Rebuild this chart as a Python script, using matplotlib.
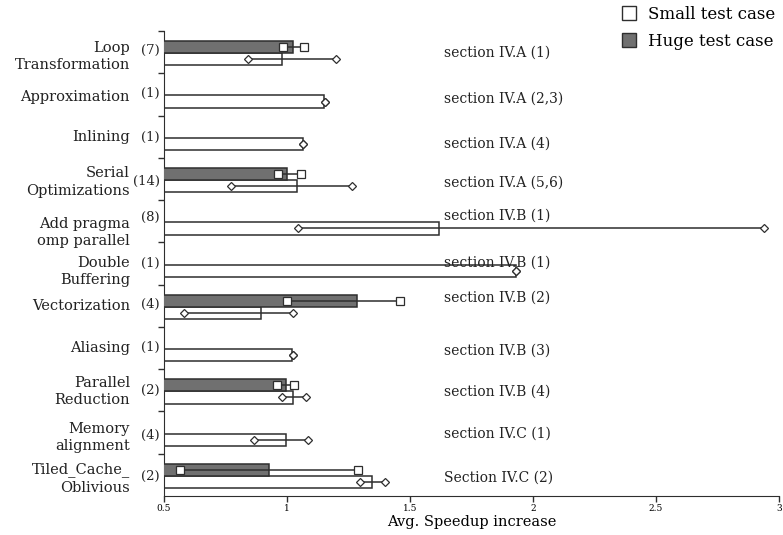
import numpy as np
import matplotlib.pyplot as plt
from matplotlib.lines import Line2D

# %% data
categories = ['Loop\nTransformation', 'Approximation', 'Inlining', 'Serial\nOptimizations',
              'Add pragma\nomp parallel', 'Double\nBuffering', 'Vectorization', 'Aliasing',
              'Parallel\nReduction', 'Memory\nalignment', 'Tiled_Cache_\nOblivious']
counts = ['(7)', '(1)', '(1)', '(14)', '(8)', '(1)', '(4)', '(1)', '(2)', '(4)', '(2)']
sections = ['section IV.A (1)', 'section IV.A (2,3)', 'section IV.A (4)', 'section IV.A (5,6)',
            'section IV.B (1)', 'section IV.B (1)', 'section IV.B (2)', 'section IV.B (3)',
            'section IV.B (4)', 'section IV.C (1)', 'Section IV.C (2)']

nan = np.nan
huge_mean = [1.023, nan, nan, 1.001, nan, nan, 1.283, nan, 0.995, nan, 0.928]
huge_min = [0.983, nan, nan, 0.962, nan, nan, 0.999, nan, 0.958, nan, 0.565]
huge_max = [1.069, nan, nan, 1.056, nan, nan, 1.46, nan, 1.03, nan, 1.29]

small_mean = [0.978, 1.152, 1.066, 1.042, 1.618, 1.931, 0.893, 1.02, 1.026, 0.995, 1.344]
small_min = [0.843, 1.156, 1.066, 0.771, 1.046, 1.931, 0.583, 1.023, 0.978, 0.866, 1.297]
small_max = [1.199, 1.156, 1.066, 1.264, 2.94, 1.931, 1.023, 1.023, 1.076, 1.084, 1.398]

xticks = [0.5, 1, 1.5, 2, 2.5, 3]
xtick_labels = ['0.5', '1', '1.5', '2', '2.5', '3']

# %% layout (vertical offsets inside each group)
label_off = [0.61, 0.55, 0.51, 0.57, 0.77, 0.69, 0.50, 0.51, 0.53, 0.61, 0.59]
count_off = [0.47, 0.48, 0.51, 0.57, 0.40, 0.51, 0.46, 0.48, 0.51, 0.57, 0.55]
section_off = [0.52, 0.59, 0.66, 0.58, 0.36, 0.47, 0.30, 0.57, 0.54, 0.53, 0.57]

plt.rcParams['font.family'] = 'DejaVu Serif'
dark = '#2e2e2e'
gray = '#707070'

fig = plt.figure(figsize=(7.83, 5.35), dpi=100)
ax = fig.add_axes([0.2095, 0.073, 0.785, 0.869])

idx = np.arange(len(categories))
y_huge = idx + 0.38
y_small = idx + 0.67
h = 0.29

ax.barh(y_small, small_mean, height=h, color='white', edgecolor=dark, linewidth=1.1, zorder=2)
ax.barh(y_huge, huge_mean, height=h, color=gray, edgecolor=dark, linewidth=1.1, zorder=3)

# range lines + markers
ax.hlines(y_small, small_min, small_max, color=dark, linewidth=1.1, zorder=4)
ax.plot(small_min, y_small, 'D', ms=3.6, mfc='white', mec=dark, mew=0.9, zorder=5, ls='none')
ax.plot(small_max, y_small, 'D', ms=3.6, mfc='white', mec=dark, mew=0.9, zorder=5, ls='none')
ax.hlines(y_huge, huge_min, huge_max, color=dark, linewidth=1.1, zorder=4)
ax.plot(huge_min, y_huge, 's', ms=6, mfc='white', mec=dark, mew=0.9, zorder=5, ls='none')
ax.plot(huge_max, y_huge, 's', ms=6, mfc='white', mec=dark, mew=0.9, zorder=5, ls='none')

for i in idx:
    ax.annotate(categories[i], xy=(0, i + label_off[i]), xycoords=('axes fraction', 'data'),
                xytext=(-34, 0), textcoords='offset pixels', ha='right', va='center',
                multialignment='right', fontsize=10.5, color='#222222', linespacing=1.3)
    ax.annotate(counts[i], xy=(0, i + count_off[i]), xycoords=('axes fraction', 'data'),
                xytext=(-4, 0), textcoords='offset pixels', ha='right', va='center',
                fontsize=9.5, color='#222222')
    ax.text(1.638, i + section_off[i], sections[i], ha='left', va='center',
            fontsize=10, color='#222222', zorder=6)

ax.set_xlim(0.5, 3)
ax.set_ylim(11, 0)
ax.set_xticks(xticks)
ax.set_xticklabels(xtick_labels, fontsize=6.5)
ax.set_yticks(np.arange(0, 11))
ax.set_yticklabels([])
ax.tick_params(axis='y', length=4, width=1, color=dark)
ax.tick_params(axis='x', length=4, width=1, color=dark, pad=2)
ax.spines['top'].set_visible(False)
ax.spines['right'].set_visible(False)
ax.spines['left'].set_color(dark)
ax.spines['bottom'].set_color(dark)
ax.set_xlabel('Avg. Speedup increase', fontsize=10.5, labelpad=1)

handles = [Line2D([], [], marker='s', ls='none', ms=9.5, mfc='white', mec=dark, mew=1),
           Line2D([], [], marker='s', ls='none', ms=9.5, mfc=gray, mec=dark, mew=1)]
fig.legend(handles, ['Small test case', 'Huge test case'], loc='upper right',
           bbox_to_anchor=(775 / 783, 1 - 6 / 535), frameon=False, fontsize=12,
           handlelength=1.0, handletextpad=0.6, labelspacing=0.6, borderpad=0, borderaxespad=0)

plt.savefig('out.png', dpi=100)
